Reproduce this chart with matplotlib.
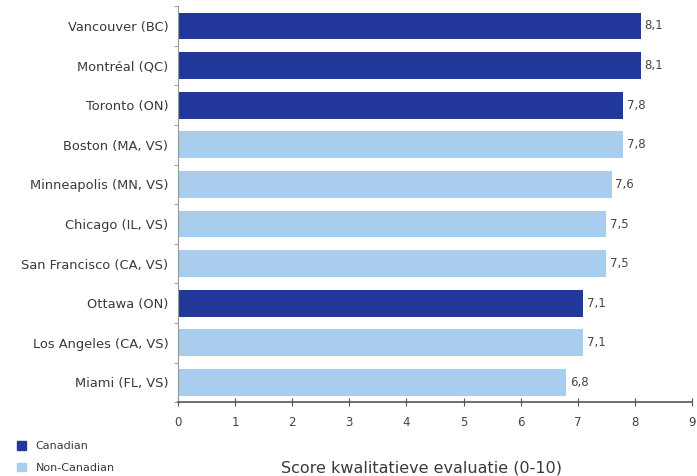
import matplotlib.pyplot as plt
from matplotlib.patches import Patch
import numpy as np

plt.rcParams['font.family'] = ['DejaVu Sans']

cities = ["Vancouver (BC)", "Montréal (QC)", "Toronto (ON)", "Boston (MA, VS)",
          "Minneapolis (MN, VS)", "Chicago (IL, VS)", "San Francisco (CA, VS)",
          "Ottawa (ON)", "Los Angeles (CA, VS)", "Miami (FL, VS)"]
scores = [8.1, 8.1, 7.8, 7.8, 7.6, 7.5, 7.5, 7.1, 7.1, 6.8]
canadian = [True, True, True, False, False, False, False, True, False, False]

dark = "#22389a"
light = "#a8cdef"
txt = "#3a3a3a"

fig = plt.figure(figsize=(6.97, 4.76), dpi=100)
ax = fig.add_axes([0.2554, 0.155, 0.7374, 0.832])

y = np.arange(len(cities))
colors = [dark if c else light for c in canadian]
ax.barh(y, scores, height=0.68, color=colors)
for yi, s in zip(y, scores):
    ax.text(s + 0.06, yi, f"{s:.1f}".replace(".", ","), va="center", ha="left",
            fontsize=8.5, color="#444444")

ax.set_ylim(len(cities) - 0.5, -0.5)
ax.set_xlim(0, 9)
ax.set_yticks(y)
ax.set_yticklabels(cities, fontsize=9.4, color=txt)
ax.set_yticks(np.arange(-0.5, len(cities), 1), minor=True)
ax.tick_params(axis="y", which="major", length=0, pad=7)
ax.tick_params(axis="y", which="minor", length=3, color="#888888")
ax.set_xticks(range(10))
ax.tick_params(axis="x", direction="inout", length=6, color="#555555",
               labelsize=8.5, labelcolor="#444444", pad=7)
for side in ["top", "right"]:
    ax.spines[side].set_visible(False)
ax.spines["left"].set_color("#999999")
ax.spines["bottom"].set_color("#555555")
ax.spines["bottom"].set_linewidth(1.2)

fig.text(0.605, 0.008, "Score kwalitatieve evaluatie (0-10)", ha="center",
         fontsize=11.5, color=txt)

handles = [Patch(color=dark, label="Canadian"), Patch(color=light, label="Non-Canadian")]
fig.legend(handles=handles, loc="lower left", bbox_to_anchor=(0.01, -0.014), frameon=False,
           fontsize=8, handlelength=0.8, handleheight=0.8, labelcolor=txt,
           handletextpad=0.9, labelspacing=1.0)

plt.savefig("out.png", dpi=100)
